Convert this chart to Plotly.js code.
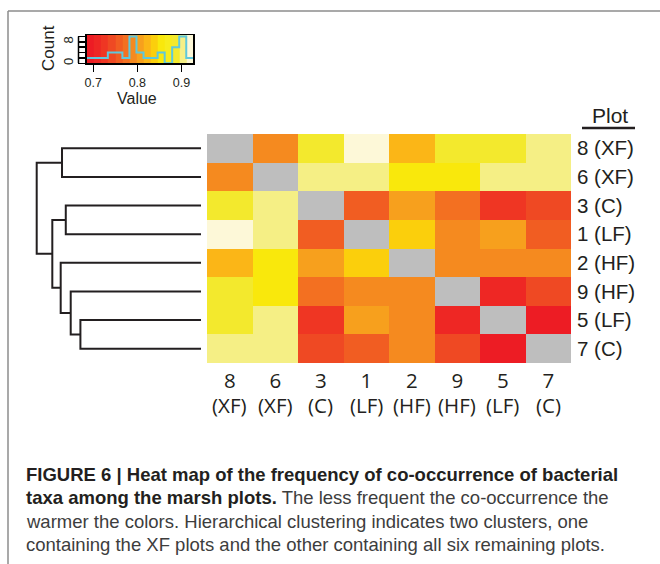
<!DOCTYPE html>
<html><head><meta charset="utf-8">
<script src="https://cdn.plot.ly/plotly-3.0.1.min.js"></script>
<style>html,body{margin:0;padding:0;background:#fff;}#chart{width:660px;height:564px;}</style>
</head><body><div id="chart"></div>
<script>
// ---- data (clustered order, top-to-bottom / left-to-right) ----
const plots  = ['8','6','3','1','2','9','5','7'];
const groups = ['XF','XF','C','LF','HF','HF','LF','C'];
// frequency of co-occurrence (diagonal = NA)
const freq = [
  [null, 0.789, 0.886, 0.927, 0.823, 0.888, 0.885, 0.903],
  [0.789, null, 0.904, 0.902, 0.854, 0.856, 0.903, 0.905],
  [0.886, 0.904, null, 0.757, 0.806, 0.772, 0.725, 0.742],
  [0.927, 0.902, 0.757, null, 0.839, 0.791, 0.807, 0.758],
  [0.823, 0.854, 0.806, 0.839, null, 0.790, 0.788, 0.791],
  [0.888, 0.856, 0.772, 0.791, 0.790, null, 0.708, 0.740],
  [0.885, 0.903, 0.725, 0.807, 0.788, 0.708, null, 0.685],
  [0.903, 0.905, 0.742, 0.758, 0.791, 0.740, 0.685, null]
];
// colour key: breaks, histogram counts, colours
const keyBreaks = [0.685,0.701,0.717,0.733,0.750,0.766,0.782,0.798,0.814,0.830,0.846,0.862,0.879,0.895,0.911,0.927];
const keyCounts = [2,2,2,4,4,2,10,4,2,2,4,0,6,10,2];
const keyColors = ['#ed1c24','#ee2724','#ef3623','#ef4923','#f15d22','#f37021','#f58a1f','#f7a01d',
                   '#fbb617','#fbcf0c','#f9e80c','#f7ec1c','#f3e92d','#f5ef85','#fdf8d8'];
const keyTicks = [0.7, 0.8, 0.9];
// row dendrogram (hclust style: negative = leaf row, positive = earlier merge)
const mergeA = [-7, -6, -3, -1, -5, 3, 4];
const mergeB = [-8,  1, -4, -2,  2, 5, 6];
const mergeH = [0.734, 0.793, 0.823, 0.846, 0.854, 0.905, 1.000];

// ---- build ----
const W = 660, H = 564;
const px = v => v / W, py = v => 1 - v / H;
const zmin = keyBreaks[0], zmax = keyBreaks[keyBreaks.length - 1];
const nb = keyColors.length;
const cscale = [];
keyColors.forEach((c, k) => { cscale.push([k / nb, c]); cscale.push([(k + 1) / nb, c]); });
const idx = plots.map((_, i) => i);
const naMask = freq.map(r => r.map(v => v === null ? 1 : null));

// dendrogram segments
const nodePos = [], nodeH = [];
const posOf = n => n < 0 ? (-n - 1) : nodePos[n - 1];
const htOf = n => n < 0 ? 0 : nodeH[n - 1];
const dx = [], dy = [];
mergeA.forEach((a, m) => {
  const b = mergeB[m], h = mergeH[m];
  const pa = posOf(a), pb = posOf(b);
  nodePos.push((pa + pb) / 2); nodeH.push(h);
  dx.push(htOf(a), h, h, htOf(b), null);
  dy.push(pa, pa, pb, pb, null);
});

const yTop = Math.max(...keyCounts) / 0.95;
const keyCenters = keyBreaks.slice(0, -1).map((b, i) => (b + keyBreaks[i + 1]) / 2);

const traces = [
  {type:'heatmap', x: idx, y: idx, z: freq, colorscale: cscale, zmin, zmax, showscale:false,
   xaxis:'x', yaxis:'y', hoverinfo:'skip', xgap:0, ygap:0},
  {type:'heatmap', x: idx, y: idx, z: naMask, colorscale:[[0,'#bebebe'],[1,'#bebebe']], showscale:false,
   xaxis:'x', yaxis:'y', hoverinfo:'skip'},
  {type:'scatter', mode:'lines', x: dx, y: dy, xaxis:'x2', yaxis:'y',
   line:{color:'#231f20', width:2}, hoverinfo:'skip', connectgaps:false},
  {type:'heatmap', x: keyBreaks, y: [0, yTop], z: [keyCenters], colorscale: cscale, zmin, zmax,
   showscale:false, xaxis:'x3', yaxis:'y3', hoverinfo:'skip'},
  {type:'scatter', mode:'lines', x: keyBreaks, y: keyCounts.concat([keyCounts[keyCounts.length-1]]),
   line:{shape:'hv', color:'#5ec8dc', width:2}, xaxis:'x3', yaxis:'y3', hoverinfo:'skip'}
];

const annotations = [
  {text:'Count', x:px(48), y:py(48), xref:'paper', yref:'paper', textangle:-90, showarrow:false,
   font:{size:17, color:'#231f20'}, xanchor:'center', yanchor:'middle'},
  {text:'Value', x:px(137), y:py(99), xref:'paper', yref:'paper', showarrow:false,
   font:{size:16, color:'#231f20'}, xanchor:'center', yanchor:'middle'},
  {text:'Plot', x:px(610), y:py(115), xref:'paper', yref:'paper', showarrow:false,
   font:{size:21, color:'#231f20'}, xanchor:'center', yanchor:'middle'}
];
groups.forEach((g, i) => annotations.push({
  text:'(' + g + ')', x:i, xref:'x', y:py(405), yref:'paper', showarrow:false,
  font:{family:'Open Sans', size:20.5, color:'#231f20'}, xanchor:'center', yanchor:'middle'}));

const capLines = [
  '<b>FIGURE 6 | Heat map of the frequency of co-occurrence of bacterial</b>',
  '<b>taxa among the marsh plots.</b><span style="color:#3d3d3d"> The less frequent the co-occurrence the</span>',
  '<span style="color:#3d3d3d">warmer the colors. Hierarchical clustering indicates two clusters, one</span>',
  '<span style="color:#3d3d3d">containing the XF plots and the other containing all six remaining plots.</span>'
];
const capY = [474, 497.5, 521, 544.5];
capLines.forEach((t, i) => annotations.push({
  text:t, x:px(24), y:py(capY[i]), xref:'paper', yref:'paper', showarrow:false,
  xanchor:'left', yanchor:'middle', align:'left', font:{size:18.5, color:'#231f20'}}));

const shapes = [
  {type:'line', xref:'paper', yref:'paper', x0:px(8), x1:px(8), y0:py(11), y1:py(564), line:{color:'#8c8c8c', width:1.5}},
  {type:'line', xref:'paper', yref:'paper', x0:px(8), x1:px(660), y0:py(11), y1:py(11), line:{color:'#8c8c8c', width:1.5}},
  {type:'line', xref:'paper', yref:'paper', x0:px(582), x1:px(635), y0:py(128), y1:py(128), line:{color:'#231f20', width:2.5}},
  {type:'line', xref:'paper', yref:'y3', x0:px(78.5), x1:px(78.5), y0:0, y1:10, line:{color:'#000', width:1.5}}
];

const layout = {
  width:W, height:H, margin:{l:0,r:0,t:0,b:0}, paper_bgcolor:'#fff', plot_bgcolor:'rgba(0,0,0,0)',
  showlegend:false, hovermode:false,
  font:{family:'Liberation Sans, Arial, sans-serif', color:'#231f20'},
  xaxis:{domain:[px(207), px(571)], range:[-0.5, 7.5], anchor:'y', tickvals:idx, ticktext:plots,
         ticks:'', showgrid:false, zeroline:false, showline:false, ticklabelstandoff:3,
         tickfont:{family:'Open Sans', size:20.5, color:'#231f20'}},
  yaxis:{domain:[py(363), py(134)], range:[7.5, -0.5], anchor:'x', side:'right', tickvals:idx,
         ticktext: plots.map((p, i) => p + ' (' + groups[i] + ')'),
         ticks:'', showgrid:false, zeroline:false, showline:false, ticklabelstandoff:5,
         tickfont:{size:20.5, color:'#231f20'}},
  xaxis2:{domain:[px(30), px(207)], range:[1.0408, -0.0365], anchor:'y', visible:false},
  xaxis3:{domain:[px(86.7), px(193.3)], range:[zmin, zmax], anchor:'y3', tickvals:keyTicks,
          ticktext:keyTicks.map(v => v.toFixed(1)), ticks:'outside', ticklen:7, tickwidth:1.5, tickcolor:'#000',
          showline:true, mirror:true, linecolor:'#000', linewidth:1.5, showgrid:false, zeroline:false,
          ticklabelstandoff:0, tickfont:{size:12.5, color:'#231f20'}},
  yaxis3:{domain:[py(63.3), py(35)], range:[0, yTop], anchor:'x3', tickvals:[0,2,4,6,8,10],
          ticktext:['0','','','','8',''], tickangle:-90, ticks:'outside', ticklen:7, tickwidth:1.5, tickcolor:'#000',
          showline:true, mirror:true, linecolor:'#000', linewidth:1.5, showgrid:false, zeroline:false,
          tickfont:{size:13, color:'#231f20'}},
  annotations, shapes
};

Plotly.newPlot('chart', traces, layout, {staticPlot:true, displayModeBar:false});
</script></body></html>
